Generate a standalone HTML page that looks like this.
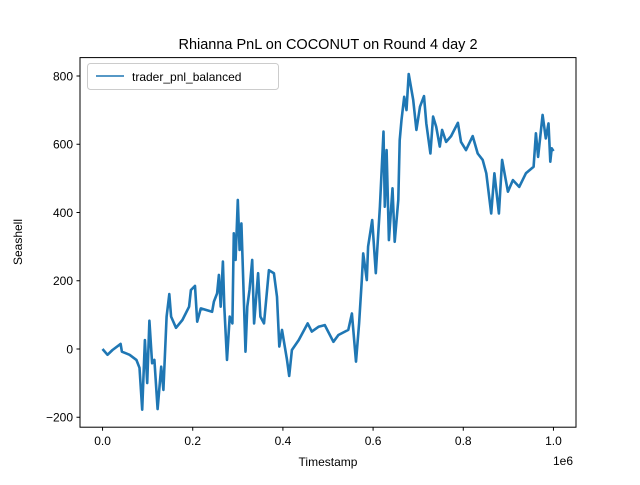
<!DOCTYPE html>
<html><head><meta charset="utf-8"><style>
body{margin:0;background:#fff}
svg text{font-family:"Liberation Sans","DejaVu Sans",sans-serif;fill:#000}
</style></head><body>
<svg id="chart" width="640" height="480" viewBox="0 0 640 480">
<rect width="640" height="480" fill="#fff"/>
<text x="328" y="49" font-size="14.5" text-anchor="middle">Rhianna PnL on COCONUT on Round 4 day 2</text>
<g id="plot"></g>
<rect x="80" y="57.6" width="496" height="369.6" fill="none" stroke="#000" stroke-width="1"/>
<g id="xt"></g><g id="yt"></g>
<text x="328" y="466" font-size="12" text-anchor="middle">Timestamp</text>
<text x="553" y="465" font-size="12">1e6</text>
<text transform="translate(22,242) rotate(-90)" font-size="12" text-anchor="middle">Seashell</text>
<g>
<rect x="87.5" y="63.5" width="191" height="26" rx="3" fill="#fff" fill-opacity="0.8" stroke="#ccc"/>
<line x1="96" y1="76" x2="124" y2="76" stroke="#1f77b4" stroke-width="1.5"/>
<text x="132" y="81" font-size="12">trader_pnl_balanced</text>
</g>
</svg>
<script>
const xs=[0,0.011,0.022,0.04,0.043,0.06,0.075,0.082,0.088,0.094,0.099,0.104,0.11,0.115,0.122,0.13,0.135,0.142,0.148,0.152,0.163,0.177,0.192,0.196,0.205,0.21,0.218,0.243,0.247,0.254,0.258,0.262,0.267,0.27,0.276,0.282,0.288,0.291,0.295,0.3,0.304,0.308,0.311,0.317,0.321,0.326,0.332,0.336,0.345,0.35,0.358,0.369,0.38,0.387,0.392,0.398,0.409,0.414,0.42,0.435,0.455,0.464,0.479,0.493,0.512,0.523,0.545,0.553,0.562,0.569,0.575,0.578,0.586,0.589,0.598,0.606,0.615,0.623,0.626,0.63,0.635,0.643,0.648,0.656,0.659,0.663,0.669,0.674,0.679,0.689,0.696,0.704,0.713,0.718,0.727,0.733,0.74,0.748,0.753,0.762,0.773,0.788,0.795,0.806,0.821,0.832,0.843,0.851,0.862,0.869,0.879,0.886,0.899,0.91,0.924,0.939,0.956,0.961,0.966,0.976,0.983,0.989,0.993,0.996,1.0];
const pnl=[0,-17,-3,15,-8,-17,-32,-55,-178,26,-100,83,-42,-32,-176,-52,-120,95,161,95,62,85,124,173,185,80,119,109,139,163,217,124,256,124,-32,95,75,339,261,437,290,368,241,-8,124,173,261,75,222,95,75,231,222,153,7,56,-32,-79,-3,26,75,51,65,70,21,41,56,104,-37,75,202,280,202,300,378,222,417,637,417,583,319,471,314,437,612,671,739,700,806,730,642,710,741,661,573,681,651,593,642,607,624,663,607,583,624,573,554,515,397,515,397,554,461,495,475,515,534,632,563,686,617,661,549,588,580];
const xTicks=[0,0.2,0.4,0.6,0.8,1.0];
const xTickLabels=["0.0","0.2","0.4","0.6","0.8","1.0"];
const yTicks=[-200,0,200,400,600,800];
const yTickLabels=["−200","0","200","400","600","800"];
const NS="http://www.w3.org/2000/svg";
function X(t){return 80+(t+0.05)/1.1*496;}
function Y(v){return 349-v*0.34125;}
const plot=document.getElementById('plot');
const line=document.createElementNS(NS,'polyline');
line.setAttribute('points',xs.map((t,i)=>X(t).toFixed(1)+','+Y(pnl[i]).toFixed(1)).join(' '));
line.setAttribute('fill','none');line.setAttribute('stroke','#1f77b4');line.setAttribute('stroke-width','2.6');line.setAttribute('stroke-linejoin','round');


plot.appendChild(line);
const xt=document.getElementById('xt');
xTicks.forEach((t,i)=>{
 const l=document.createElementNS(NS,'line');
 l.setAttribute('x1',X(t));l.setAttribute('x2',X(t));l.setAttribute('y1',427.2);l.setAttribute('y2',430.7);l.setAttribute('stroke','#000');
 
 
 xt.appendChild(l);
 const s=document.createElementNS(NS,'text');
 s.setAttribute('x',X(t));s.setAttribute('y',445);s.setAttribute('font-size','12');s.setAttribute('text-anchor','middle');
 s.textContent=xTickLabels[i];
 
 
 xt.appendChild(s);
});
const yt=document.getElementById('yt');
yTicks.forEach((v,i)=>{
 const l=document.createElementNS(NS,'line');
 l.setAttribute('x1',76.5);l.setAttribute('x2',80);l.setAttribute('y1',Y(v));l.setAttribute('y2',Y(v));l.setAttribute('stroke','#000');
 
 
 yt.appendChild(l);
 const s=document.createElementNS(NS,'text');
 s.setAttribute('x',73);s.setAttribute('y',Y(v)+4.3);s.setAttribute('font-size','12');s.setAttribute('text-anchor','end');
 s.textContent=yTickLabels[i];
 
 
 yt.appendChild(s);
});
</script>
</body></html>
